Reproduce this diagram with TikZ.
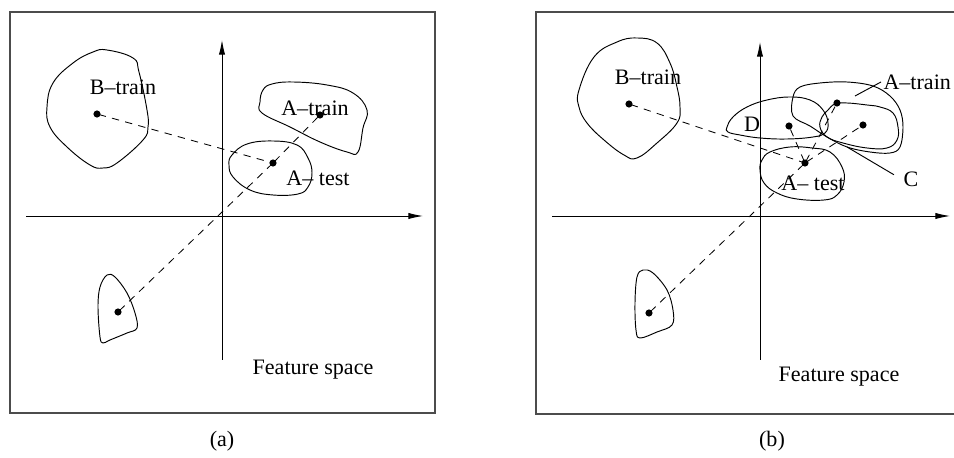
\documentclass[tikz,border=0pt]{standalone}
\usepackage{fontspec}
\setmainfont{Liberation Serif}
\usetikzlibrary{arrows.meta}
\tikzset{
    frame/.style={draw=black!70, line width=0.5pt},
    axis/.style={-{Latex[length=7pt,width=3pt]}, line width=0.45pt},
    blob/.style={line width=0.45pt},
    sample/.style={circle, fill=black, inner sep=0pt, minimum size=3.4pt},
    link/.style={dashed, dash pattern=on 3.5pt off 3pt, line width=0.4pt, shorten <=-1pt, shorten >=-1pt},
    lbl/.style={inner sep=1pt, font=\fontsize{10.5}{12}\selectfont},
}

\begin{document}
\begin{tikzpicture}[x=0.476pt, y=-0.476pt]
    \useasboundingbox (0,0) rectangle (954,458);

    % (a) well separated classes
    \draw[frame] (10,12) rectangle (435,413);
    \coordinate (aXl) at (26,216);  \coordinate (aXr) at (423,216);
    \coordinate (aYb) at (222,360); \coordinate (aYt) at (222,40);
    \draw[axis] (aXl) -- (aXr);
    \draw[axis] (aYb) -- (aYt);
    \draw[blob] plot[smooth cycle, tension=0.7] coordinates {(107,50) (133,58) (139,72) (147,110) (148,127) (143,140) (117,163) (103,168) (90,165) (67,147) (50,127) (47,107) (53,83) (73,63) (93,52)};
    \draw[blob] plot[smooth cycle, tension=0.7] coordinates {(263,90) (272,84) (293,82) (327,85) (353,93) (367,110) (363,128) (358,152) (347,152) (320,142) (290,127) (262,113) (260,102)};
    \draw[blob] plot[smooth cycle, tension=0.7] coordinates {(232,155) (247,144) (273,141) (297,145) (308,158) (312,173) (308,187) (298,194) (273,195) (250,190) (233,177) (229,165)};
    \draw[blob] plot[smooth cycle, tension=0.6] coordinates {(100,287) (107,275) (115,277) (127,293) (135,313) (137,328) (127,333) (110,340) (103,343) (100,337) (98,307)};
    \node[sample] (aB) at (97,114) {};
    \node[sample] (aTr) at (320,115) {};
    \node[sample] (aTe) at (273,163) {};
    \node[sample] (aLo) at (118,312) {};
    \node[lbl] (aBl) at (123,87) {B--train};
    \node[lbl] (aTrl) at (315,108) {A--train};
    \node[lbl] (aTel) at (318,178) {A-- test};
    \node[lbl] (aFs) at (313,370) {Feature space};
    \node[lbl] (aCap) at (222,441) {(a)};
    \draw[link] (aB) -- (aTe);
    \draw[link] (aLo) -- (aTe);
    \draw[link] (aTe) -- (aTr);

    % (b) overlapping classes
    \draw[frame] (954,12) -- (536,12) -- (536,414) -- (954,414);
    \coordinate (bXl) at (552,216); \coordinate (bXr) at (950,216);
    \coordinate (bYb) at (760,360); \coordinate (bYt) at (760,42);
    \draw[axis] (bXl) -- (bXr);
    \draw[axis] (bYb) -- (bYt);
    \draw[blob] plot[smooth cycle, tension=0.7] coordinates {(594,57) (617,42) (637,38) (657,43) (670,63) (677,87) (680,107) (677,123) (657,143) (637,158) (624,155) (604,140) (587,123) (579,107) (579,90)};
    \draw[blob] plot[smooth cycle, tension=0.6] coordinates {(637,277) (643,270) (653,273) (667,290) (673,310) (672,325) (657,332) (640,338) (636,330) (635,303)};
    \draw[blob] plot[smooth cycle, tension=0.7] coordinates {(727,127) (733,117) (747,107) (767,100) (790,97) (810,100) (823,110) (828,123) (825,133) (813,137) (787,139) (760,138) (740,135) (728,132)};
    \draw[blob] plot[smooth cycle, tension=0.7] coordinates {(762,160) (770,152) (790,147) (812,148) (830,152) (842,167) (844,182) (837,195) (824,200) (797,199) (777,193) (764,183) (760,170)};
    \draw[blob] plot[smooth cycle, tension=0.6] coordinates {(793,97) (800,87) (820,83) (847,82) (873,86) (890,96) (900,110) (903,127) (900,147) (890,153) (870,152) (847,147) (827,137) (810,126) (793,116)};
    \draw[blob] plot[smooth cycle, tension=0.7] coordinates {(835,104) (847,103) (867,105) (880,107) (893,113) (898,127) (897,140) (887,148) (867,148) (843,143) (827,137) (820,127) (822,117) (828,110)};
    \node[sample] (bB) at (629,104) {};
    \node[sample] (bLo) at (649,313) {};
    \node[sample] (bTe) at (805,163) {};
    \node[sample] (bD) at (789,126) {};
    \node[sample] (bTr) at (837,103) {};
    \node[sample] (bC) at (863,125) {};
    \node[lbl] (bBl) at (648,77) {B--train};
    \node[lbl] (bDl) at (752,124) {D};
    \node[lbl] (bTel) at (813,183) {A-- test};
    \node[lbl, anchor=west] (bTrl) at (881,82) {A--train};
    \node[lbl] (bCl) at (911,179) {C};
    \node[lbl] (bFs) at (839,377) {Feature space};
    \node[lbl] (bCap) at (772,441) {(b)};
    \coordinate (bTrp) at (855,96);
    \coordinate (bCp) at (847,147);
    \draw[blob] (bTrp) -- (bTrl.west);
    \draw[blob, shorten >=4pt] (bCp) -- (bCl.west);
    \draw[link] (bB) -- (bTe);
    \draw[link] (bLo) -- (bTe);
    \draw[link] (bTe) -- (bD);
    \draw[link] (bTe) -- (bTr);
    \draw[link] (bTe) -- (bC);
\end{tikzpicture}
\end{document}
